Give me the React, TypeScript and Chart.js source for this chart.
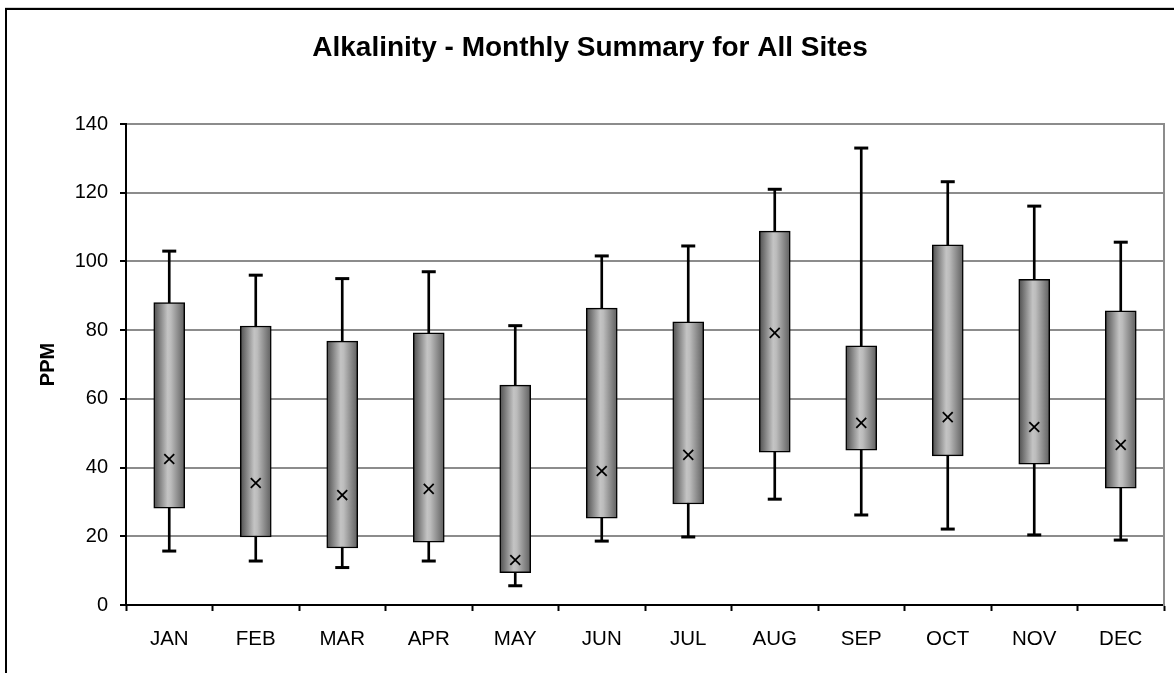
import React, { useEffect, useRef } from "react";
import { Chart, registerables } from "chart.js";

Chart.register(...registerables);

const months = ["JAN", "FEB", "MAR", "APR", "MAY", "JUN", "JUL", "AUG", "SEP", "OCT", "NOV", "DEC"];
const highs = [103, 96, 95, 97, 81.3, 101.6, 104.5, 121, 133, 123.2, 116.1, 105.6];
const q3 = [88, 81.2, 76.8, 79.2, 64, 86.4, 82.4, 108.8, 75.4, 104.8, 94.8, 85.6];
const q1 = [28.2, 19.8, 16.6, 18.3, 9.4, 25.3, 29.4, 44.5, 45.1, 43.4, 41, 34];
const lows = [15.7, 12.8, 10.9, 12.8, 5.6, 18.6, 19.8, 30.8, 26.2, 22.1, 20.4, 18.9];
const marks = [42.5, 35.5, 32, 33.8, 13.1, 39, 43.7, 79.2, 53, 54.7, 51.8, 46.6];
const yTicks = [0, 20, 40, 60, 80, 100, 120, 140];

const FONT = 'Arial, "Liberation Sans", sans-serif';
const BOX_W = 31;

export default function App() {
  const ref = useRef<HTMLCanvasElement | null>(null);

  useEffect(() => {
    if (!ref.current) return;
    const boxFill = (ctx: any) => {
      const chart = ctx.chart;
      const xs = chart.scales && chart.scales.x;
      if (!xs || ctx.type !== "data" || !chart.chartArea) return "#999999";
      const cx = xs.getPixelForValue(ctx.dataIndex);
      const g = chart.ctx.createLinearGradient(cx - BOX_W / 2, 0, cx + BOX_W / 2, 0);
      g.addColorStop(0, "#4e4e4e");
      g.addColorStop(0.45, "#c4c4c4");
      g.addColorStop(0.55, "#bcbcbc");
      g.addColorStop(1, "#5e5e5e");
      return g;
    };

    const chart = new Chart(ref.current, {
      type: "bar",
      data: {
        labels: months,
        datasets: [
          {
            type: "bar",
            label: "whisker",
            data: months.map((_, i) => [lows[i], highs[i]]),
            backgroundColor: "#000",
            borderWidth: 0,
            barThickness: 2,
            grouped: false,
            order: 3,
          } as any,
          {
            type: "bar",
            label: "box",
            data: months.map((_, i) => [q1[i], q3[i]]),
            backgroundColor: boxFill,
            borderColor: "#000",
            borderWidth: 1.5,
            borderSkipped: false,
            barThickness: BOX_W,
            grouped: false,
            order: 2,
          } as any,
          {
            type: "line",
            label: "high",
            data: highs,
            showLine: false,
            pointStyle: "line",
            pointRadius: 7,
            pointBorderWidth: 3,
            pointBorderColor: "#000",
            order: 1,
          } as any,
          {
            type: "line",
            label: "low",
            data: lows,
            showLine: false,
            pointStyle: "line",
            pointRadius: 7,
            pointBorderWidth: 3,
            pointBorderColor: "#000",
            order: 1,
          } as any,
          {
            type: "line",
            label: "mark",
            data: marks,
            showLine: false,
            pointStyle: "crossRot",
            pointRadius: 7,
            pointBorderWidth: 1.8,
            pointBorderColor: "#000",
            order: 0,
          } as any,
        ],
      },
      options: {
        animation: false,
        responsive: false,
        maintainAspectRatio: false,
        events: [],
        layout: { padding: { left: 6, right: 0, top: 0, bottom: 0 } },
        plugins: {
          legend: { display: false },
          tooltip: { enabled: false },
          title: {
            display: true,
            text: "Alkalinity - Monthly Summary for All Sites",
            color: "#000",
            font: { family: FONT, size: 28, weight: "bold" },
            padding: { top: 31, bottom: 59.4 },
          },
        },
        scales: {
          x: {
            type: "category",
            offset: true,
            grid: {
              offset: true,
              drawOnChartArea: false,
              drawTicks: true,
              tickLength: 6,
              tickColor: "#000",
              tickWidth: 2,
              color: "#000",
            },
            border: { display: true, color: "#000", width: 2 },
            ticks: { color: "#000", font: { family: FONT, size: 20.5 }, padding: 16, maxRotation: 0, autoSkip: false },
            afterFit: (s: any) => {
              s.height = 68;
            },
          },
          y: {
            type: "linear",
            position: "left",
            min: 0,
            max: 140,
            afterBuildTicks: (s: any) => {
              s.ticks = yTicks.map((v) => ({ value: v }));
            },
            grid: {
              color: "#8c8c8c",
              lineWidth: 2,
              drawTicks: true,
              tickLength: 6,
              tickColor: "#000",
              tickWidth: 2,
            },
            border: { display: true, color: "#000", width: 2 },
            ticks: { color: "#000", font: { family: FONT, size: 20 }, padding: 12 },
            title: {
              display: true,
              text: "PPM",
              color: "#000",
              font: { family: FONT, size: 20, weight: "bold" },
              padding: { top: 30, bottom: 0 },
            },
            afterFit: (s: any) => {
              s.width = 120;
            },
          },
          y2: {
            type: "linear",
            position: "right",
            min: 0,
            max: 140,
            grid: { drawOnChartArea: false, drawTicks: false },
            border: { display: true, color: "#8c8c8c", width: 2 },
            ticks: { display: false },
            afterFit: (s: any) => {
              s.width = 9;
            },
          },
        },
      } as any,
    });
    return () => chart.destroy();
  }, []);

  return (
    <div
      style={{
        position: "fixed",
        left: 0,
        top: 0,
        width: 1174,
        height: 673,
        overflow: "hidden",
        background: "#fff",
      }}
    >
      <div
        style={{
          position: "absolute",
          left: 5,
          top: 8,
          width: 1200,
          height: 700,
          border: "2px solid #000",
          boxShadow: "0 -1px 0 #d4d4d4",
          boxSizing: "border-box",
        }}
      />
      <canvas ref={ref} width={1174} height={673} style={{ position: "absolute", left: 0, top: 0, width: 1174, height: 673 }} />
    </div>
  );
}
